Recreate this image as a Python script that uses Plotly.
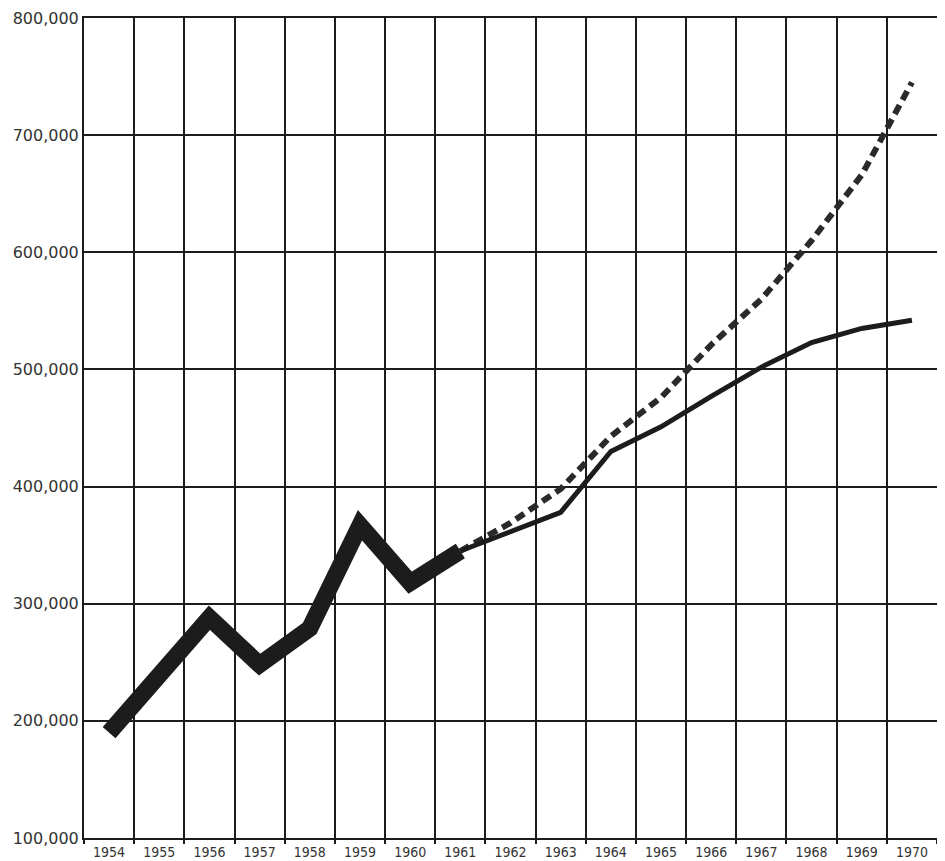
"""Growth chart 1954-1970: actual (heavy line) and two projections."""
import plotly.graph_objects as go

# ── Data ────────────────────────────────────────────────────────────────────
years = list(range(1954, 1971))
year_labels = [str(y) for y in years]

actual_years = list(range(1954, 1962))
actual_values = [190000, 241000, 288000, 248000, 279000, 367000, 318000, 345000]

proj_years = list(range(1961, 1971))
proj_low = [345000, 361000, 378000, 430000, 451000, 477000, 502000, 523000, 535000, 542000]
proj_high = [345000, 369000, 398000, 443000, 476000, 521000, 560000, 610000, 666000, 745000]

y_ticks = [100000, 200000, 300000, 400000, 500000, 600000, 700000, 800000]
y_labels = [f"{v:,}" for v in y_ticks]

INK = "#1c1c1c"

fig = go.Figure()

# projections first so the heavy line sits on top at the join
fig.add_trace(go.Scatter(
    x=proj_years, y=proj_high, mode="lines",
    line=dict(color="#2a2a2a", width=6, dash="10px,6px"), name="High",
))
fig.add_trace(go.Scatter(
    x=proj_years, y=proj_low, mode="lines",
    line=dict(color=INK, width=5), name="Low",
))
fig.add_trace(go.Scatter(
    x=actual_years, y=actual_values, mode="lines",
    line=dict(color=INK, width=17), name="Actual",
))

# the page body offsets the figure a few px, so the figure is sized to fit
fig.update_layout(
    width=932, height=855,
    margin=dict(l=76, r=3, t=10, b=25),
    paper_bgcolor="white", plot_bgcolor="white",
    showlegend=False,
    xaxis=dict(
        range=[1953.5, 1970.5], automargin=False,
        tickvals=years, ticktext=year_labels,
        ticks="", showgrid=False, zeroline=False,
        ticklabeloverflow="allow",
        showline=True, mirror=True, linecolor=INK, linewidth=2,
        tickfont=dict(family="Liberation Sans Narrow, DejaVu Sans Condensed, sans-serif",
                      size=14, color="#333"),
        minor=dict(tick0=1953.5, dtick=1, showgrid=True, gridcolor=INK,
                   gridwidth=2, ticks="outside", ticklen=4, tickcolor=INK,
                   tickwidth=2),
    ),
    yaxis=dict(
        range=[100000, 800000], automargin=False,
        tickvals=y_ticks, ticktext=y_labels, ticklabeloverflow="allow",
        ticks="", showgrid=True, gridcolor=INK, gridwidth=2, zeroline=False,
        showline=True, mirror=True, linecolor=INK, linewidth=2,
        tickfont=dict(family="DejaVu Sans, sans-serif", size=16, color="#333"),
    ),
)

fig.write_html("out.html")
